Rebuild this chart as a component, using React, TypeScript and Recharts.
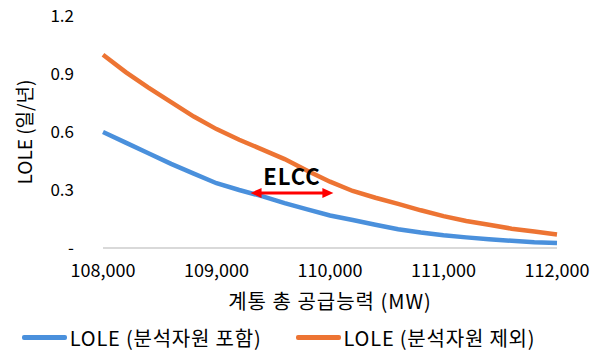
import React from 'react'
import {
  LineChart,
  Line,
  XAxis,
  YAxis,
  Legend,
  ReferenceLine,
} from 'recharts'

// ── data ──────────────────────────────────────────
const capacity = [
  108000, 108200, 108400, 108600, 108800, 109000, 109200, 109400, 109600, 109800, 110000,
  110200, 110400, 110600, 110800, 111000, 111200, 111400, 111600, 111800, 112000,
]
const loleWith = [
  0.6, 0.545, 0.49, 0.435, 0.385, 0.335, 0.3, 0.268, 0.232, 0.2, 0.168,
  0.145, 0.12, 0.097, 0.08, 0.066, 0.055, 0.045, 0.037, 0.03, 0.026,
]
const loleWithout = [
  1.0, 0.91, 0.83, 0.755, 0.68, 0.615, 0.56, 0.51, 0.46, 0.4, 0.343,
  0.295, 0.26, 0.228, 0.195, 0.165, 0.14, 0.12, 0.1, 0.085, 0.07,
]
const xTicks = [108000, 109000, 110000, 111000, 112000]
const yTicks = [0, 0.3, 0.6, 0.9, 1.2]
const elccRange = [109300, 110030]
const elccLevel = 0.285

const SERIES = [
  { key: 'with', name: 'LOLE (분석자원 포함)', color: '#4a90dc' },
  { key: 'without', name: 'LOLE (분석자원 제외)', color: '#ed7433' },
]

const FONT = '"Noto Sans CJK KR", "Noto Sans", sans-serif'

const data = capacity.map((c, i) => ({
  mw: c,
  with: loleWith[i],
  without: loleWithout[i],
}))

function ArrowShape(props: any) {
  const { x1, y1, x2 } = props
  const y = y1
  const h = 5
  const len = 11
  return (
    <g>
      <line x1={x1 + len - 1} y1={y} x2={x2 - len + 1} y2={y} stroke="#ff0000" strokeWidth={3} />
      <polygon points={`${x1},${y} ${x1 + len},${y - h} ${x1 + len},${y + h}`} fill="#ff0000" />
      <polygon points={`${x2},${y} ${x2 - len},${y - h} ${x2 - len},${y + h}`} fill="#ff0000" />
    </g>
  )
}

function LegendContent() {
  return (
    <div
      style={{
        display: 'flex',
        justifyContent: 'center',
        gap: 34,
        paddingTop: 8,
        fontFamily: FONT,
        fontSize: 20,
        letterSpacing: 0.8,
        color: '#000',
      }}
    >
      {SERIES.map((s) => (
        <div key={s.key} style={{ display: 'flex', alignItems: 'center' }}>
          <span style={{ display: 'inline-block', width: 45, height: 5, background: s.color, borderRadius: 2, marginRight: 3 }} />
          <span>{s.name}</span>
        </div>
      ))}
    </div>
  )
}

export default function App() {
  return (
    <div style={{ position: 'absolute', left: 0, top: 0, width: 591, height: 355, background: '#fff' }}>
      <LineChart width={591} height={355} data={data} margin={{ top: 16, right: 34, left: 0, bottom: 0 }}>
        <XAxis
          dataKey="mw"
          type="number"
          domain={[108000, 112000]}
          ticks={xTicks}
          tickFormatter={(v: number) => v.toLocaleString('en-US')}
          tick={{ fill: '#000', fontSize: 18, fontFamily: FONT }}
          tickLine={false}
          tickMargin={10}
          axisLine={{ stroke: '#d9d9d9', strokeWidth: 2 }}
          height={67}
          label={{
            value: '계통 총 공급능력 (MW)',
            position: 'insideBottom',
            offset: 6,
            style: { fill: '#000', fontSize: 20, letterSpacing: 1, fontFamily: FONT },
          }}
        />
        <YAxis
          type="number"
          domain={[0, 1.2]}
          ticks={yTicks}
          tickFormatter={(v: number) => (v === 0 ? '-' : v.toFixed(1))}
          tick={{ fill: '#000', fontSize: 17, fontFamily: FONT }}
          tickLine={false}
          axisLine={false}
          tickMargin={23}
          width={103}
          label={{
            value: 'LOLE (일/년)',
            angle: -90,
            position: 'insideLeft',
            offset: 25,
            style: { fill: '#000', fontSize: 19, fontFamily: FONT, textAnchor: 'middle' },
          }}
        />
        <Legend verticalAlign="bottom" height={40} content={<LegendContent />} />
        {SERIES.map((s) => (
          <Line
            key={s.key}
            type="linear"
            dataKey={s.key}
            name={s.name}
            stroke={s.color}
            strokeWidth={4.5}
            dot={false}
            isAnimationActive={false}
          />
        ))}
        <ReferenceLine
          segment={[
            { x: elccRange[0], y: elccLevel },
            { x: elccRange[1], y: elccLevel },
          ]}
          shape={<ArrowShape />}
          label={{
            value: 'ELCC',
            position: 'top',
            offset: 8,
            style: { fill: '#000', fontSize: 22, letterSpacing: 1, fontWeight: 'bold', fontFamily: FONT },
          }}
        />
      </LineChart>
    </div>
  )
}
